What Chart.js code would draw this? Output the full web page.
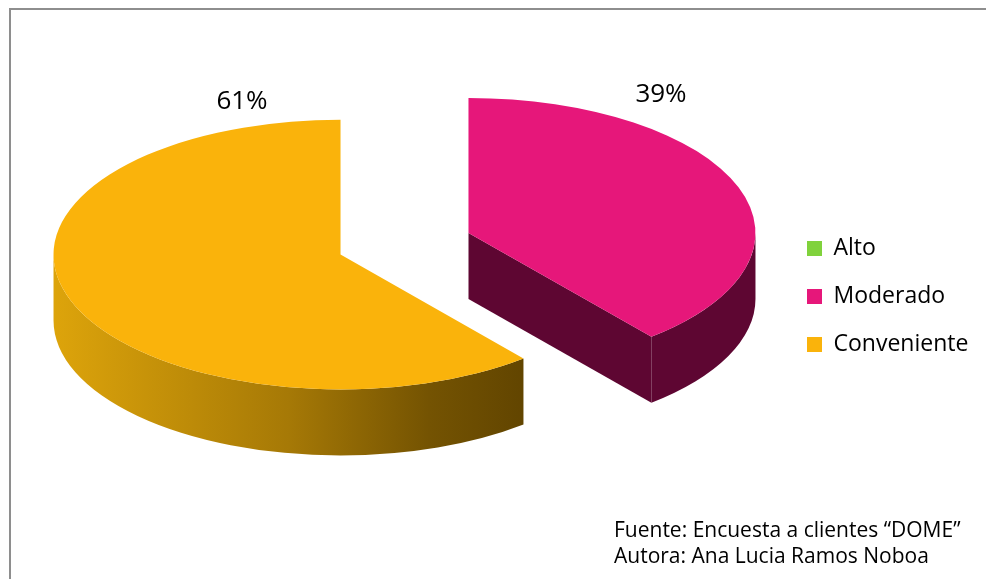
<!DOCTYPE html>
<html lang="es">
<head>
<meta charset="utf-8">
<title>Nivel de precio</title>
<script src="https://cdn.jsdelivr.net/npm/chart.js@4.4.1/dist/chart.umd.min.js"></script>
<style>
  html, body { margin: 0; padding: 0; background: #fff; }
  #wrap { position: relative; width: 986px; height: 579px; }
</style>
</head>
<body>
<div id="wrap"><canvas id="chart"></canvas></div>
<script>
// Datos de la encuesta
const categories = ['Alto', 'Moderado', 'Conveniente'];
const shares = [0, 39, 61];
const sourceLines = ['Fuente: Encuesta a clientes \u201CDOME\u201D', 'Autora: Ana Lucia Ramos Noboa'];

// Colores: cara superior y pared lateral [claro, oscuro]
const topColors = ['#80D23C', '#E6177A', '#FAB30B'];
const wallColors = [['#5F9A2C', '#3E681C'], ['#5E0632', '#5E0632'], ['#DDA40B', '#624500']];

// Posición de las etiquetas de porcentaje
const labelSpots = [null, { x: 661, y: 102 }, { x: 242, y: 109 }];

const TILT = 0.47;     // aplastamiento vertical del plano del pastel
const DEPTH = 66;      // grosor de las porciones
const EXPLODE = 68;    // separación de cada porción desde el centro
const RADIUS = 287;

const FONT = '"Open Sans", sans-serif';
const LEGEND_SIZE = 23;
const LEGEND_PAD = 25;

// ancho de la leyenda para dejarla en su columna
const measure = document.createElement('canvas').getContext('2d');
measure.font = LEGEND_SIZE + 'px ' + FONT;
const textW = Math.max(...categories.map(c => measure.measureText(c).width));
const legendW = LEGEND_PAD + 15 + LEGEND_SIZE / 2 + textW + 10;
const legendLeft = 782;

// tramos del borde que quedan al frente (ángulos 0..PI)
function frontSpans(a0, a1) {
    const spans = [];
    for (let k = -1; k <= 2; k++) {
        const lo = Math.max(a0, k * 2 * Math.PI);
        const hi = Math.min(a1, k * 2 * Math.PI + Math.PI);
        if (hi > lo) spans.push([lo, hi]);
    }
    return spans;
}

function mix(a, b, t) {
    const pa = [1, 3, 5].map(k => parseInt(a.substr(k, 2), 16));
    const pb = [1, 3, 5].map(k => parseInt(b.substr(k, 2), 16));
    const c = pa.map((v, k) => Math.round(v + (pb[k] - v) * t));
    return 'rgb(' + c.join(',') + ')';
}

const pie3d = {
    id: 'pie3d',
    beforeDraw(chart) {
        const ctx = chart.ctx;
        ctx.save();
        ctx.strokeStyle = '#8E8E8E';
        ctx.lineWidth = 2;
        ctx.beginPath();
        ctx.moveTo(10, 579);
        ctx.lineTo(10, 9);
        ctx.lineTo(986, 9);
        ctx.stroke();
        ctx.restore();
    },
    afterDatasetUpdate(chart, args) {
        args.meta.data.forEach(arc => {
            if (arc.circumference <= 0) return;
            const mid = (arc.startAngle + arc.endAngle) / 2;
            arc.x += Math.cos(mid) * EXPLODE;
            arc.y += Math.sin(mid) * EXPLODE;
        });
    },
    beforeDatasetsDraw(chart) {
        const ctx = chart.ctx;
        const cy = (chart.chartArea.top + chart.chartArea.bottom) / 2;
        const arcs = chart.getDatasetMeta(0).data;
        const py = y => cy + (y - cy) * TILT;

        ctx.save();
        // caras de corte que miran al frente
        arcs.forEach((arc, i) => {
            if (arc.circumference <= 0) return;
            const sx = arc.x, sy = py(arc.y), r = arc.outerRadius;
            [[arc.startAngle, -1], [arc.endAngle, 1]].forEach(([a, side]) => {
                if (side * Math.cos(a) <= 1e-6) return;
                const ex = sx + r * Math.cos(a);
                const ey = sy + r * TILT * Math.sin(a);
                ctx.beginPath();
                ctx.moveTo(sx, sy);
                ctx.lineTo(ex, ey);
                ctx.lineTo(ex, ey + DEPTH);
                ctx.lineTo(sx, sy + DEPTH);
                ctx.closePath();
                ctx.fillStyle = wallColors[i][1];
                ctx.fill();
            });
        });
        // pared exterior
        arcs.forEach((arc, i) => {
            if (arc.circumference <= 0) return;
            const sx = arc.x, sy = py(arc.y), r = arc.outerRadius;
            frontSpans(arc.startAngle, arc.endAngle).forEach(([a0, a1]) => {
                const left = sx + r * Math.cos(a1);
                const right = sx + r * Math.cos(a0);
                const g = ctx.createLinearGradient(left, 0, right, 0);
                g.addColorStop(0, wallColors[i][0]);
                g.addColorStop(0.5, mix(wallColors[i][0], wallColors[i][1], 0.45));
                g.addColorStop(0.8, mix(wallColors[i][0], wallColors[i][1], 0.85));
                g.addColorStop(1, wallColors[i][1]);
                ctx.beginPath();
                ctx.ellipse(sx, sy, r, r * TILT, 0, a0, a1);
                ctx.ellipse(sx, sy + DEPTH, r, r * TILT, 0, a1, a0, true);
                ctx.closePath();
                ctx.fillStyle = g;
                ctx.fill();
            });
        });
        ctx.restore();

        // caras superiores: las dibuja Chart.js sobre el plano inclinado
        ctx.save();
        ctx.translate(0, cy);
        ctx.scale(1, TILT);
        ctx.translate(0, -cy);
    },
    afterDatasetsDraw(chart) {
        const ctx = chart.ctx;
        ctx.restore();

        ctx.save();
        ctx.font = '26px ' + FONT;
        ctx.fillStyle = '#000';
        ctx.textAlign = 'center';
        ctx.textBaseline = 'alphabetic';
        shares.forEach((v, i) => {
            if (v <= 0 || !labelSpots[i]) return;
            ctx.fillText(v + '%', labelSpots[i].x, labelSpots[i].y);
        });
        ctx.restore();
    },
    afterDraw(chart) {
        const ctx = chart.ctx;
        ctx.save();
        ctx.font = '21px ' + FONT;
        ctx.fillStyle = '#000';
        ctx.textAlign = 'left';
        ctx.textBaseline = 'alphabetic';
        sourceLines.forEach((line, i) => ctx.fillText(line, 614, 537 + i * 26));
        ctx.restore();
    }
};

new Chart(document.getElementById('chart'), {
    type: 'pie',
    data: {
        labels: categories,
        datasets: [{
            data: shares,
            backgroundColor: topColors,
            borderWidth: 0,
            clip: false
        }]
    },
    options: {
        responsive: true,
        maintainAspectRatio: false,
        animation: false,
        radius: RADIUS,
        layout: {
            padding: { left: 27, top: 106.5, bottom: 198, right: 986 - legendLeft - legendW }
        },
        plugins: {
            tooltip: { enabled: false },
            legend: {
                position: 'right',
                align: 'end',
                labels: {
                    boxWidth: 15,
                    boxHeight: 15,
                    padding: LEGEND_PAD,
                    color: '#000',
                    font: { family: FONT, size: LEGEND_SIZE }
                }
            }
        }
    },
    plugins: [pie3d]
});
</script>
</body>
</html>
